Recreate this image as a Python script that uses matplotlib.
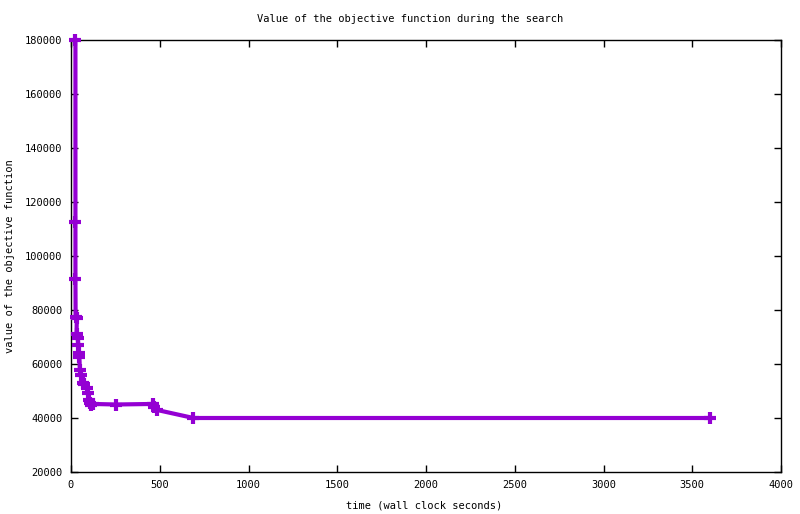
import matplotlib
matplotlib.use("Agg")
import matplotlib.pyplot as plt

times = [25, 25, 25, 26, 33, 31, 38, 41, 44, 47, 50, 56, 68, 73, 90, 95, 100, 105, 110, 125, 253, 460, 470, 483, 690, 3600]
values = [180000, 112500, 91500, 77500, 77000, 71000, 69500, 67000, 64000, 62500, 57800, 56000, 53000, 52500, 51000, 49300, 46700, 45500, 45000, 45200, 45000, 45200, 44000, 43000, 40000, 40000]

title = "Value of the objective function during the search"
xlabel = "time (wall clock seconds)"
ylabel = "value of the objective function"
xticks = [0, 500, 1000, 1500, 2000, 2500, 3000, 3500, 4000]
yticks = [20000, 40000, 60000, 80000, 100000, 120000, 140000, 160000, 180000]

plt.rcParams['font.family'] = ['DejaVu Sans Mono']
fs = 7.5

fig = plt.figure(figsize=(8, 5.14), dpi=100)
ax = fig.add_axes([71/800, 1-472/514, 710/800, 432/514])
ax.plot(times, values, color='#9400D3', linewidth=3.0, marker='+',
        markersize=8.5, markeredgewidth=3.0, clip_on=False, zorder=3)
ax.set_xlim(0, 4000)
ax.set_ylim(20000, 180000)
ax.set_xticks(xticks)
ax.set_yticks(yticks)
ax.set_xticklabels([str(t) for t in xticks], fontsize=fs)
ax.set_yticklabels([str(t) for t in yticks], fontsize=fs)
ax.tick_params(direction='in', top=True, right=True, length=5, width=1, pad=6)
for s in ax.spines.values():
    s.set_linewidth(1)
fig.text(410/800, 1-19/514, title, ha='center', va='center', fontsize=fs)
fig.text(424/800, 1-505/514, xlabel, ha='center', va='center', fontsize=fs)
fig.text(10/800, 1-256/514, ylabel, ha='center', va='center', rotation=90, fontsize=fs)
fig.savefig("out.png", dpi=100)
